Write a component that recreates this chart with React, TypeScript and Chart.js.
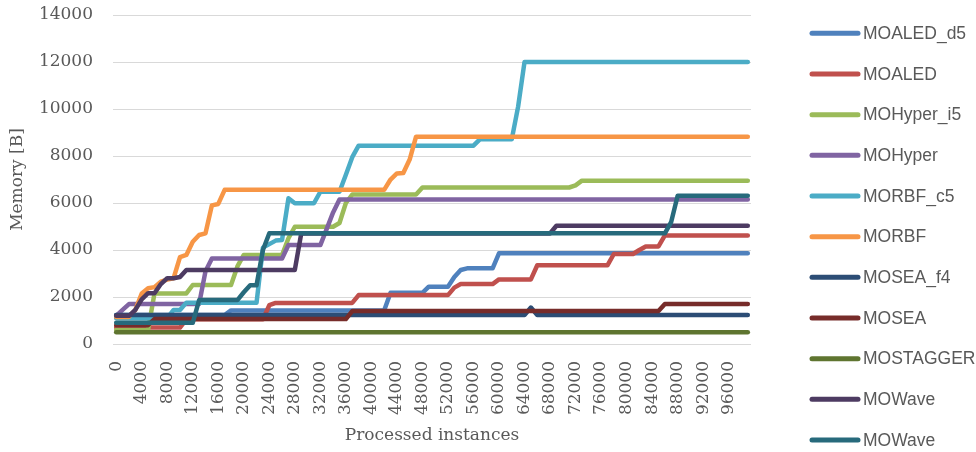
import { useEffect, useRef } from 'react';
import { Chart, registerables } from 'chart.js';

Chart.register(...registerables);

// Processed instances (category axis, one point every 1000 instances)
const instances = [
  0, 1000, 2000, 3000, 4000, 5000, 6000, 7000, 8000, 9000,
  10000, 11000, 12000, 13000, 14000, 15000, 16000, 17000, 18000, 19000,
  20000, 21000, 22000, 23000, 24000, 25000, 26000, 27000, 28000, 29000,
  30000, 31000, 32000, 33000, 34000, 35000, 36000, 37000, 38000, 39000,
  40000, 41000, 42000, 43000, 44000, 45000, 46000, 47000, 48000, 49000,
  50000, 51000, 52000, 53000, 54000, 55000, 56000, 57000, 58000, 59000,
  60000, 61000, 62000, 63000, 64000, 65000, 66000, 67000, 68000, 69000,
  70000, 71000, 72000, 73000, 74000, 75000, 76000, 77000, 78000, 79000,
  80000, 81000, 82000, 83000, 84000, 85000, 86000, 87000, 88000, 89000,
  90000, 91000, 92000, 93000, 94000, 95000, 96000, 97000, 98000, 99000,
];

const moaledD5 = [
  1230, 1230, 1230, 1230, 1230, 1230, 1230, 1230, 1230, 1230,
  1230, 1230, 1230, 1230, 1230, 1230, 1230, 1230, 1430, 1430,
  1430, 1430, 1430, 1430, 1430, 1430, 1430, 1430, 1430, 1430,
  1430, 1430, 1430, 1430, 1430, 1430, 1430, 1430, 1430, 1430,
  1430, 1430, 1430, 2180, 2180, 2180, 2180, 2180, 2180, 2440,
  2440, 2440, 2440, 2850, 3150, 3220, 3220, 3220, 3220, 3220,
  3860, 3860, 3860, 3860, 3860, 3860, 3860, 3860, 3860, 3860,
  3860, 3860, 3860, 3860, 3860, 3860, 3860, 3860, 3860, 3860,
  3860, 3860, 3860, 3860, 3860, 3860, 3860, 3860, 3860, 3860,
  3860, 3860, 3860, 3860, 3860, 3860, 3860, 3860, 3860, 3860,
];

const moaled = [
  700, 700, 700, 700, 700, 700, 700, 700, 700, 700,
  700, 1050, 1050, 1050, 1050, 1050, 1050, 1050, 1050, 1050,
  1050, 1050, 1050, 1050, 1650, 1750, 1750, 1750, 1750, 1750,
  1750, 1750, 1750, 1750, 1750, 1750, 1750, 1750, 2080, 2080,
  2080, 2080, 2080, 2080, 2080, 2080, 2080, 2080, 2080, 2080,
  2080, 2080, 2080, 2400, 2550, 2550, 2550, 2550, 2550, 2550,
  2750, 2750, 2750, 2750, 2750, 2750, 3350, 3350, 3350, 3350,
  3350, 3350, 3350, 3350, 3350, 3350, 3350, 3350, 3830, 3830,
  3830, 3830, 4000, 4150, 4150, 4150, 4620, 4620, 4620, 4620,
  4620, 4620, 4620, 4620, 4620, 4620, 4620, 4620, 4620, 4620,
];

const mohyperI5 = [
  600, 600, 600, 600, 600, 600, 2150, 2150, 2150, 2150,
  2150, 2150, 2510, 2510, 2510, 2510, 2510, 2510, 2510, 3300,
  3790, 3790, 3790, 3790, 3790, 3790, 3790, 4500, 4990, 4990,
  4990, 4990, 4990, 4990, 4990, 5150, 6000, 6360, 6360, 6360,
  6360, 6360, 6360, 6360, 6360, 6360, 6360, 6360, 6660, 6660,
  6660, 6660, 6660, 6660, 6660, 6660, 6660, 6660, 6660, 6660,
  6660, 6660, 6660, 6660, 6660, 6660, 6660, 6660, 6660, 6660,
  6660, 6660, 6750, 6950, 6950, 6950, 6950, 6950, 6950, 6950,
  6950, 6950, 6950, 6950, 6950, 6950, 6950, 6950, 6950, 6950,
  6950, 6950, 6950, 6950, 6950, 6950, 6950, 6950, 6950, 6950,
];

const mohyper = [
  1200, 1450, 1700, 1700, 1700, 1700, 1700, 1700, 1700, 1700,
  1700, 1700, 1700, 1700, 3100, 3640, 3640, 3640, 3640, 3640,
  3640, 3640, 3640, 3640, 3640, 3640, 3640, 4210, 4210, 4210,
  4210, 4210, 4210, 4900, 5600, 6150, 6150, 6150, 6150, 6150,
  6150, 6150, 6150, 6150, 6150, 6150, 6150, 6150, 6150, 6150,
  6150, 6150, 6150, 6150, 6150, 6150, 6150, 6150, 6150, 6150,
  6150, 6150, 6150, 6150, 6150, 6150, 6150, 6150, 6150, 6150,
  6150, 6150, 6150, 6150, 6150, 6150, 6150, 6150, 6150, 6150,
  6150, 6150, 6150, 6150, 6150, 6150, 6150, 6150, 6150, 6150,
  6150, 6150, 6150, 6150, 6150, 6150, 6150, 6150, 6150, 6150,
];

const morbfC5 = [
  1100, 1100, 1100, 1100, 1100, 1100, 1100, 1100, 1100, 1450,
  1450, 1760, 1760, 1760, 1760, 1760, 1760, 1760, 1760, 1760,
  1760, 1760, 1760, 4100, 4250, 4400, 4430, 6200, 5990, 5990,
  5990, 5990, 6480, 6480, 6480, 6480, 7200, 7950, 8440, 8440,
  8440, 8440, 8440, 8440, 8440, 8440, 8440, 8440, 8440, 8440,
  8440, 8440, 8440, 8440, 8440, 8440, 8440, 8710, 8710, 8710,
  8710, 8710, 8710, 10100, 12000, 12000, 12000, 12000, 12000, 12000,
  12000, 12000, 12000, 12000, 12000, 12000, 12000, 12000, 12000, 12000,
  12000, 12000, 12000, 12000, 12000, 12000, 12000, 12000, 12000, 12000,
  12000, 12000, 12000, 12000, 12000, 12000, 12000, 12000, 12000, 12000,
];

const morbf = [
  1150, 1150, 1150, 1450, 2150, 2370, 2420, 2650, 2740, 2800,
  3700, 3790, 4350, 4640, 4710, 5900, 5960, 6560, 6560, 6560,
  6560, 6560, 6560, 6560, 6560, 6560, 6560, 6560, 6560, 6560,
  6560, 6560, 6560, 6560, 6560, 6560, 6560, 6560, 6560, 6560,
  6560, 6560, 6560, 7000, 7260, 7280, 7850, 8820, 8820, 8820,
  8820, 8820, 8820, 8820, 8820, 8820, 8820, 8820, 8820, 8820,
  8820, 8820, 8820, 8820, 8820, 8820, 8820, 8820, 8820, 8820,
  8820, 8820, 8820, 8820, 8820, 8820, 8820, 8820, 8820, 8820,
  8820, 8820, 8820, 8820, 8820, 8820, 8820, 8820, 8820, 8820,
  8820, 8820, 8820, 8820, 8820, 8820, 8820, 8820, 8820, 8820,
];

const moseaF4 = [
  1230, 1230, 1230, 1230, 1230, 1230, 1230, 1230, 1230, 1230,
  1230, 1230, 1230, 1230, 1230, 1230, 1230, 1230, 1230, 1230,
  1230, 1230, 1230, 1230, 1230, 1230, 1230, 1230, 1230, 1230,
  1230, 1230, 1230, 1230, 1230, 1230, 1230, 1230, 1230, 1230,
  1230, 1230, 1230, 1230, 1230, 1230, 1230, 1230, 1230, 1230,
  1230, 1230, 1230, 1230, 1230, 1230, 1230, 1230, 1230, 1230,
  1230, 1230, 1230, 1230, 1230, 1550, 1230, 1230, 1230, 1230,
  1230, 1230, 1230, 1230, 1230, 1230, 1230, 1230, 1230, 1230,
  1230, 1230, 1230, 1230, 1230, 1230, 1230, 1230, 1230, 1230,
  1230, 1230, 1230, 1230, 1230, 1230, 1230, 1230, 1230, 1230,
];

const mosea = [
  800, 800, 800, 800, 800, 800, 1060, 1060, 1060, 1060,
  1060, 1060, 1060, 1060, 1060, 1060, 1060, 1060, 1060, 1060,
  1060, 1060, 1060, 1060, 1060, 1060, 1060, 1060, 1060, 1060,
  1060, 1060, 1060, 1060, 1060, 1060, 1060, 1400, 1400, 1400,
  1400, 1400, 1400, 1400, 1400, 1400, 1400, 1400, 1400, 1400,
  1400, 1400, 1400, 1400, 1400, 1400, 1400, 1400, 1400, 1400,
  1400, 1400, 1400, 1400, 1400, 1400, 1400, 1400, 1400, 1400,
  1400, 1400, 1400, 1400, 1400, 1400, 1400, 1400, 1400, 1400,
  1400, 1400, 1400, 1400, 1400, 1400, 1700, 1700, 1700, 1700,
  1700, 1700, 1700, 1700, 1700, 1700, 1700, 1700, 1700, 1700,
];

const mostagger = [
  500, 500, 500, 500, 500, 500, 500, 500, 500, 500,
  500, 500, 500, 500, 500, 500, 500, 500, 500, 500,
  500, 500, 500, 500, 500, 500, 500, 500, 500, 500,
  500, 500, 500, 500, 500, 500, 500, 500, 500, 500,
  500, 500, 500, 500, 500, 500, 500, 500, 500, 500,
  500, 500, 500, 500, 500, 500, 500, 500, 500, 500,
  500, 500, 500, 500, 500, 500, 500, 500, 500, 500,
  500, 500, 500, 500, 500, 500, 500, 500, 500, 500,
  500, 500, 500, 500, 500, 500, 500, 500, 500, 500,
  500, 500, 500, 500, 500, 500, 500, 500, 500, 500,
];

const mowaveA = [
  1200, 1200, 1200, 1450, 1900, 2160, 2160, 2550, 2800, 2800,
  2850, 3150, 3150, 3150, 3150, 3150, 3150, 3150, 3150, 3150,
  3150, 3150, 3150, 3150, 3150, 3150, 3150, 3150, 3150, 4700,
  4700, 4700, 4700, 4700, 4700, 4700, 4700, 4700, 4700, 4700,
  4700, 4700, 4700, 4700, 4700, 4700, 4700, 4700, 4700, 4700,
  4700, 4700, 4700, 4700, 4700, 4700, 4700, 4700, 4700, 4700,
  4700, 4700, 4700, 4700, 4700, 4700, 4700, 4700, 4700, 5030,
  5030, 5030, 5030, 5030, 5030, 5030, 5030, 5030, 5030, 5030,
  5030, 5030, 5030, 5030, 5030, 5030, 5030, 5030, 5030, 5030,
  5030, 5030, 5030, 5030, 5030, 5030, 5030, 5030, 5030, 5030,
];

const mowaveB = [
  900, 900, 900, 900, 900, 900, 900, 900, 900, 900,
  900, 900, 900, 1870, 1870, 1870, 1870, 1870, 1870, 1870,
  2200, 2500, 2500, 4000, 4710, 4710, 4710, 4710, 4710, 4710,
  4710, 4710, 4710, 4710, 4710, 4710, 4710, 4710, 4710, 4710,
  4710, 4710, 4710, 4710, 4710, 4710, 4710, 4710, 4710, 4710,
  4710, 4710, 4710, 4710, 4710, 4710, 4710, 4710, 4710, 4710,
  4710, 4710, 4710, 4710, 4710, 4710, 4710, 4710, 4710, 4710,
  4710, 4710, 4710, 4710, 4710, 4710, 4710, 4710, 4710, 4710,
  4710, 4710, 4710, 4710, 4710, 4710, 4710, 5200, 6310, 6310,
  6310, 6310, 6310, 6310, 6310, 6310, 6310, 6310, 6310, 6310,
];

const seriesNames = [
  'MOALED_d5', 'MOALED', 'MOHyper_i5', 'MOHyper', 'MORBF_c5', 'MORBF',
  'MOSEA_f4', 'MOSEA', 'MOSTAGGER', 'MOWave', 'MOWave',
];

const seriesColors = [
  '#4F81BD', '#C0504D', '#9BBB59', '#8064A2', '#4BACC6', '#F79646',
  '#2C4D75', '#772C2A', '#5F7530', '#4D3B62', '#276A7C',
];

const yMin = 0;
const yMax = 14000;
const yStep = 2000;

const TEXT_COLOR = '#595959';
const SERIF = '"DejaVu Serif", "Liberation Serif", serif';

const sideLegend = {
  id: 'sideLegend',
  afterDraw(chart: any) {
    const { ctx, chartArea } = chart;
    const x0 = chartArea.right + 61;
    const x1 = x0 + 46;
    const tx = x1 + 5;
    const top = 33.3;
    const step = 40.67;
    ctx.save();
    ctx.font = '17.5px "Liberation Sans", Arial, sans-serif';
    ctx.textBaseline = 'middle';
    ctx.textAlign = 'left';
    chart.data.datasets.forEach((ds: any, k: number) => {
      const y = top + k * step;
      ctx.strokeStyle = ds.borderColor;
      ctx.lineWidth = 5;
      ctx.lineCap = 'round';
      ctx.beginPath();
      ctx.moveTo(x0, y);
      ctx.lineTo(x1, y);
      ctx.stroke();
      ctx.fillStyle = TEXT_COLOR;
      ctx.fillText(ds.label, tx, y + 1);
    });
    ctx.restore();
  },
};

export default function App() {
  const ref = useRef<HTMLCanvasElement>(null);

  useEffect(() => {
    const series = [
      moaledD5, moaled, mohyperI5, mohyper, morbfC5, morbf,
      moseaF4, mosea, mostagger, mowaveA, mowaveB,
    ];
    const chart = new Chart(ref.current as HTMLCanvasElement, {
      type: 'line',
      data: {
        labels: instances.map(String),
        datasets: series.map((d, k) => ({
          label: seriesNames[k],
          data: d,
          borderColor: seriesColors[k],
          backgroundColor: seriesColors[k],
          borderWidth: 4.5,
          pointRadius: 0,
          pointHoverRadius: 0,
          tension: 0,
          fill: false,
          borderCapStyle: 'round',
          borderJoinStyle: 'round',
          order: series.length - k,
        })),
      },
      options: {
        animation: false,
        responsive: true,
        maintainAspectRatio: false,
        layout: { padding: { left: 0, top: 15, right: 225, bottom: 0 } },
        plugins: {
          legend: { display: false },
          tooltip: { enabled: false },
        },
        scales: {
          x: {
            type: 'category',
            offset: true,
            grid: { display: false, drawTicks: false },
            border: { display: false },
            ticks: {
              autoSkip: false,
              maxRotation: 90,
              minRotation: 90,
              padding: 17,
              color: TEXT_COLOR,
              font: { family: SERIF, size: 17 },
              callback: (_v: any, i: number) => (i % 4 === 0 ? String(instances[i]) : ''),
            },
            title: {
              display: true,
              text: 'Processed instances',
              color: TEXT_COLOR,
              font: { family: SERIF, size: 17 },
              padding: { top: 0, bottom: 6 },
            },
            afterFit: (s: any) => { s.height = 108; },
          },
          y: {
            min: yMin,
            max: yMax,
            grid: {
              color: '#D9D9D9',
              lineWidth: 1,
              drawTicks: true,
              tickLength: 20,
              tickColor: 'rgba(0,0,0,0)',
            },
            border: { display: false },
            ticks: {
              stepSize: yStep,
              padding: 0,
              color: TEXT_COLOR,
              font: { family: SERIF, size: 17 },
              callback: (v: any) => String(v),
            },
            title: {
              display: true,
              text: 'Memory [B]',
              color: TEXT_COLOR,
              font: { family: SERIF, size: 17 },
              padding: { top: 7, bottom: 0 },
            },
            afterFit: (s: any) => { s.width = 113; },
          },
        },
      } as any,
      plugins: [sideLegend],
    });
    return () => chart.destroy();
  }, []);

  return (
    <div style={{ position: 'absolute', left: 0, top: 0, width: 976, height: 452 }}>
      <canvas ref={ref} />
    </div>
  );
}
